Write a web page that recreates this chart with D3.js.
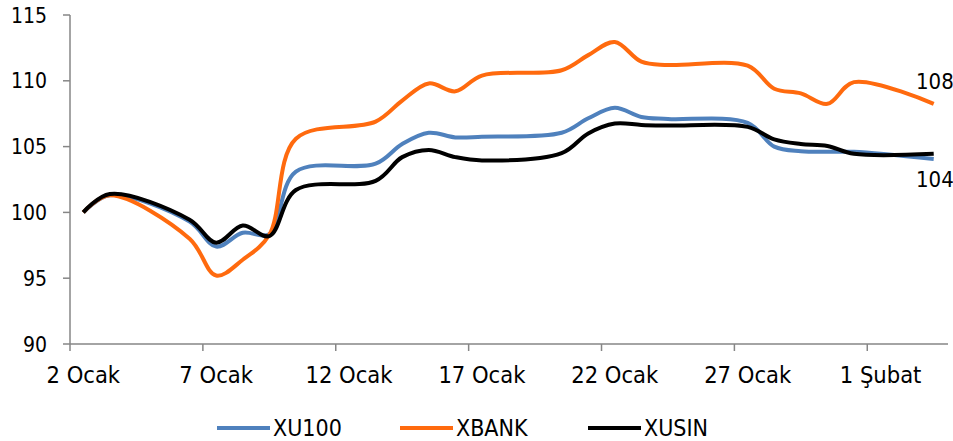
<!DOCTYPE html>
<html>
<head>
<meta charset="utf-8">
<script src="https://cdn.jsdelivr.net/npm/d3@7"></script>
<style>
  body { margin: 0; background: #fff; }
  text { font-family: "DejaVu Sans Condensed", "DejaVu Sans", sans-serif; fill: #000; }
</style>
</head>
<body>
<svg id="chart" width="953" height="441"></svg>
<script>
// trading days
var dates = ['2020-01-02','2020-01-03','2020-01-06','2020-01-07','2020-01-08','2020-01-09','2020-01-10',
    '2020-01-13','2020-01-14','2020-01-15','2020-01-16','2020-01-17',
    '2020-01-20','2020-01-21','2020-01-22','2020-01-23','2020-01-24',
    '2020-01-27','2020-01-28','2020-01-29','2020-01-30','2020-01-31','2020-02-03'];

var xu100 = [100, 101.3, 99.3, 97.4, 98.45, 98.35, 103.1,
    103.7, 105.2, 106.05, 105.7, 105.75,
    106.05, 107.15, 107.95, 107.25, 107.1,
    106.8, 105.0, 104.65, 104.6, 104.6, 104.05];
var xbank = [100, 101.3, 98.0, 95.2, 96.4, 98.3, 105.6,
    106.9, 108.5, 109.8, 109.2, 110.4,
    110.8, 111.95, 112.95, 111.45, 111.2,
    111.15, 109.4, 109.05, 108.25, 109.9, 108.25];
var xusin = [100, 101.4, 99.45, 97.7, 99.0, 98.2, 101.7,
    102.4, 104.2, 104.75, 104.2, 103.95,
    104.5, 106.0, 106.75, 106.65, 106.6,
    106.5, 105.55, 105.2, 105.05, 104.45, 104.45];

var seriesNames = ['XU100', 'XBANK', 'XUSIN'];
var seriesColors = ['#4F81BD', '#FF6A0E', '#000000'];
var yTicks = [90, 95, 100, 105, 110, 115];
var xTickDates = ['2020-01-02','2020-01-07','2020-01-12','2020-01-17','2020-01-22','2020-01-27','2020-02-01'];
var monthNames = ['Ocak', 'Şubat'];

var parse = d3.utcParse('%Y-%m-%d');
var halfDay = 12 * 3600 * 1000;

var svg = d3.select('#chart');
var plotLeft = 70, plotRight = 947, plotTop = 15, plotBottom = 344;

var x = d3.scaleUtc()
    .domain([parse('2020-01-02'), parse('2020-02-04')])
    .range([plotLeft, plotRight]);
var y = d3.scaleLinear().domain([90, 115]).range([plotBottom, plotTop]);

// y axis
svg.append('line')
    .attr('x1', plotLeft).attr('x2', plotLeft).attr('y1', plotTop).attr('y2', plotBottom)
    .attr('stroke', '#868686').attr('stroke-width', 1.5);
yTicks.forEach(function (t) {
    svg.append('line')
        .attr('x1', plotLeft - 7).attr('x2', plotLeft).attr('y1', y(t)).attr('y2', y(t))
        .attr('stroke', '#868686').attr('stroke-width', 1.5);
    svg.append('text')
        .attr('x', 47).attr('y', y(t)).attr('dy', '0.36em')
        .attr('text-anchor', 'end').attr('font-size', 21)
        .text(t);
});

// x axis
svg.append('line')
    .attr('x1', plotLeft).attr('x2', plotRight + 1).attr('y1', plotBottom).attr('y2', plotBottom)
    .attr('stroke', '#868686').attr('stroke-width', 1.5);
xTickDates.forEach(function (s) {
    var d = parse(s);
    svg.append('line')
        .attr('x1', x(d)).attr('x2', x(d)).attr('y1', plotBottom).attr('y2', plotBottom + 7)
        .attr('stroke', '#868686').attr('stroke-width', 1.5);
    svg.append('text')
        .attr('x', x(new Date(+d + halfDay))).attr('y', 383)
        .attr('text-anchor', 'middle').attr('font-size', 23.5)
        .text(d.getUTCDate() + ' ' + monthNames[d.getUTCMonth()]);
});

// lines
var line = d3.line()
    .x(function (d) { return x(new Date(+parse(d.date) + halfDay)); })
    .y(function (d) { return y(d.value); })
    .curve(d3.curveCatmullRom.alpha(0.5));

[xu100, xbank, xusin].forEach(function (vals, i) {
    var data = vals.map(function (v, j) { return { date: dates[j], value: v }; });
    svg.append('path')
        .datum(data)
        .attr('d', line)
        .attr('fill', 'none')
        .attr('stroke', seriesColors[i])
        .attr('stroke-width', 4)
        .attr('stroke-linejoin', 'round');
});

// end labels
svg.append('text').attr('x', 916).attr('y', 81).attr('dy', '0.36em')
    .attr('font-size', 22).text(Math.round(xbank[xbank.length - 1]));
svg.append('text').attr('x', 916).attr('y', 179).attr('dy', '0.36em')
    .attr('font-size', 22).text(Math.round(xu100[xu100.length - 1]));

// legend
var legendX = [217, 400, 588];
seriesNames.forEach(function (name, i) {
    svg.append('line')
        .attr('x1', legendX[i]).attr('x2', legendX[i] + 53)
        .attr('y1', 428).attr('y2', 428)
        .attr('stroke', seriesColors[i]).attr('stroke-width', 4);
    svg.append('text')
        .attr('x', legendX[i] + 56).attr('y', 436)
        .attr('font-size', 23).text(name);
});
</script>
</body>
</html>
